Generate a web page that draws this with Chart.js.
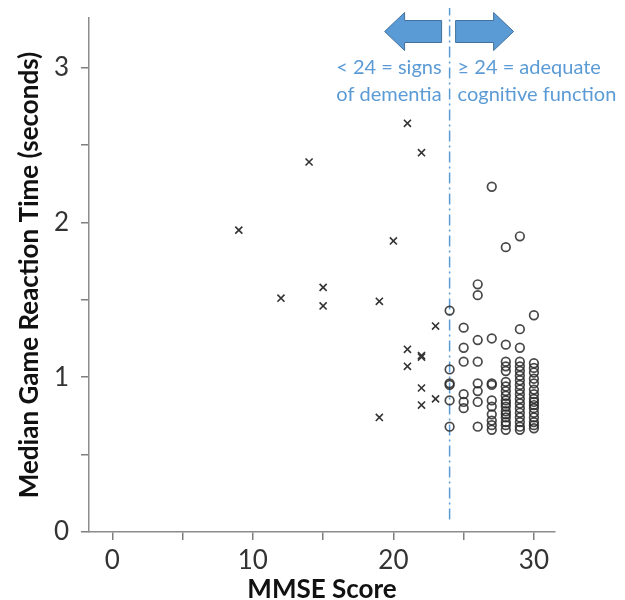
<!DOCTYPE html>
<html>
<head>
<meta charset="utf-8">
<script src="https://cdn.jsdelivr.net/npm/chart.js@4.4.1/dist/chart.umd.min.js"></script>
<style>
html,body{margin:0;padding:0;background:#fff;}
#wrap{width:625px;height:600px;position:relative;}
</style>
</head>
<body>
<div id="wrap"><canvas id="c" width="625" height="600"></canvas></div>
<script>
// MMSE < 24 (crosses)
const crossX = [9, 12, 14, 15, 15, 19, 19, 20, 21, 21, 21, 22, 22, 22, 22, 22, 23, 23];
const crossY = [1.95, 1.51, 2.39, 1.58, 1.46, 1.49, 0.74, 1.88, 2.64, 1.18, 1.07, 2.45, 1.14, 1.13, 0.93, 0.82, 1.33, 0.86];

// MMSE >= 24 (circles), one list per score
const score24 = [1.43, 1.05, 0.96, 0.95, 0.85, 0.68];
const score25 = [1.32, 1.19, 1.10, 0.89, 0.84, 0.80];
const score26 = [1.60, 1.53, 1.24, 1.10, 0.96, 0.91, 0.84, 0.68];
const score27 = [2.23, 1.25, 0.96, 0.95, 0.85, 0.81, 0.76, 0.72, 0.69, 0.66];
const score28 = [1.84, 1.21, 1.10, 1.07, 1.04, 0.97, 0.94, 0.91, 0.88, 0.85, 0.83, 0.81, 0.78, 0.76, 0.74, 0.71, 0.69, 0.66];
const score29 = [1.91, 1.31, 1.19, 1.10, 1.07, 1.04, 1.01, 0.98, 0.95, 0.92, 0.89, 0.86, 0.83, 0.80, 0.77, 0.74, 0.71, 0.68, 0.66];
const score30 = [1.40, 1.09, 1.06, 1.03, 0.99, 0.96, 0.92, 0.89, 0.86, 0.84, 0.82, 0.80, 0.77, 0.74, 0.71, 0.69, 0.67];

const circleScores = [24, 25, 26, 27, 28, 29, 30];
const circleLists = [score24, score25, score26, score27, score28, score29, score30];

const xTicks = [0, 5, 10, 15, 20, 25, 30];
const yTicks = [0, 0.5, 1, 1.5, 2, 2.5, 3];
const cutoff = 24;
const cutoffLineY = [0.08, 3.385];

const leftText = ['< 24 = signs', 'of dementia'];
const rightText = ['\u2265 24 = adequate', 'cognitive function'];

const crossData = crossX.map((x, i) => ({x: x, y: crossY[i]}));
const circleData = [];
circleScores.forEach((s, i) => circleLists[i].forEach(v => circleData.push({x: s, y: v})));

const BLUE = '#5b9bd5';
const FONT = 'Lato, "Open Sans", sans-serif';

const annot = {
  id: 'annot',
  afterDraw(chart) {
    const ctx = chart.ctx;
    const xs = chart.scales.x;
    const px = xs.getPixelForValue(cutoff);
    ctx.save();
    ctx.fillStyle = BLUE;
    ctx.strokeStyle = '#41719c';
    ctx.lineWidth = 1;
    const cy = 31.5;
    // left arrow
    ctx.beginPath();
    ctx.moveTo(px - 65, cy);
    ctx.lineTo(px - 45, cy - 19);
    ctx.lineTo(px - 45, cy - 11);
    ctx.lineTo(px - 8, cy - 11);
    ctx.lineTo(px - 8, cy + 11);
    ctx.lineTo(px - 45, cy + 11);
    ctx.lineTo(px - 45, cy + 19);
    ctx.closePath();
    ctx.fill(); ctx.stroke();
    // right arrow
    ctx.beginPath();
    ctx.moveTo(px + 64, cy);
    ctx.lineTo(px + 44, cy - 19);
    ctx.lineTo(px + 44, cy - 11);
    ctx.lineTo(px + 6, cy - 11);
    ctx.lineTo(px + 6, cy + 11);
    ctx.lineTo(px + 44, cy + 11);
    ctx.lineTo(px + 44, cy + 19);
    ctx.closePath();
    ctx.fill(); ctx.stroke();
    // texts
    ctx.font = '20px ' + FONT;
    ctx.textBaseline = 'middle';
    ctx.fillStyle = BLUE;
    ctx.textAlign = 'right';
    ctx.fillText(leftText[0], px - 8, 68);
    ctx.fillText(leftText[1], px - 8, 95);
    ctx.textAlign = 'left';
    ctx.fillText(rightText[0], px + 8, 68);
    ctx.fillText(rightText[1], px + 8, 95);
    ctx.restore();
  }
};

new Chart(document.getElementById('c'), {
  type: 'scatter',
  data: {
    datasets: [
      {
        label: 'cutoff',
        type: 'line',
        data: cutoffLineY.map(v => ({x: cutoff, y: v})),
        borderColor: BLUE,
        borderWidth: 1.5,
        borderDash: [11, 4, 2, 4],
        pointRadius: 0,
        fill: false,
        clip: false,
        order: 3
      },
      {
        label: 'MMSE < 24',
        data: crossData,
        pointStyle: 'crossRot',
        pointRadius: 5,
        borderColor: '#333',
        borderWidth: 1.6,
        backgroundColor: 'transparent',
        order: 1
      },
      {
        label: 'MMSE >= 24',
        data: circleData,
        pointStyle: 'circle',
        pointRadius: 4.3,
        borderColor: 'rgba(40,40,40,0.85)',
        borderWidth: 1.7,
        backgroundColor: 'transparent',
        order: 2
      }
    ]
  },
  options: {
    responsive: false,
    animation: false,
    events: [],
    layout: {padding: {top: 18, right: 70, bottom: 0, left: 0}},
    plugins: {legend: {display: false}, tooltip: {enabled: false}},
    scales: {
      x: {
        type: 'linear',
        min: -1.66,
        max: 31.5,
        afterBuildTicks: s => { s.ticks = xTicks.map(v => ({value: v})); },
        afterFit: s => { s.height = 68; s.paddingLeft = 0; s.paddingRight = 0; },
        grid: {drawOnChartArea: false, drawTicks: true, tickLength: 8, color: '#7f7f7f', lineWidth: 1.5},
        border: {display: true, color: '#8c8c8c', width: 1.5},
        ticks: {
          color: '#333',
          font: {family: FONT, size: 26},
          padding: 5,
          maxRotation: 0,
          autoSkip: false,
          callback: v => (v % 10 === 0 ? String(v) : '')
        },
        title: {
          display: true,
          text: 'MMSE Score',
          color: '#111',
          font: {family: FONT, size: 26, weight: 'bold', lineHeight: 1},
          padding: {top: 0, bottom: -3}
        }
      },
      y: {
        type: 'linear',
        min: 0,
        max: 3.32,
        afterBuildTicks: s => { s.ticks = yTicks.map(v => ({value: v})); },
        afterFit: s => { s.width = 89; s.paddingTop = 0; s.paddingBottom = 0; },
        grid: {drawOnChartArea: false, drawTicks: true, tickLength: 8, color: '#7f7f7f', lineWidth: 1.5},
        border: {display: true, color: '#8c8c8c', width: 1.5},
        ticks: {
          color: '#333',
          font: {family: FONT, size: 26},
          padding: 12,
          autoSkip: false,
          callback: v => (Number.isInteger(v) ? String(v) : '')
        },
        title: {
          display: true,
          text: 'Median Game Reaction Time (seconds)',
          color: '#111',
          font: {family: FONT, size: 26, weight: 'bold', lineHeight: 1},
          padding: {top: 17, bottom: 0}
        }
      }
    }
  },
  plugins: [annot]
});
</script>
</body>
</html>
